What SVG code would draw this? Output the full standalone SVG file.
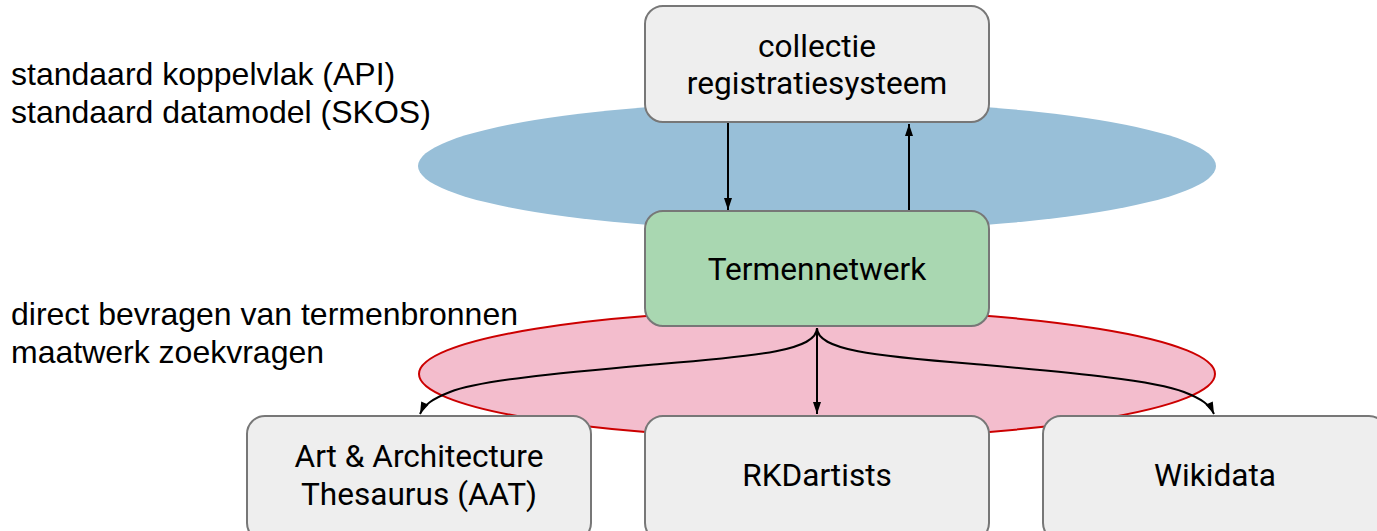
<svg xmlns="http://www.w3.org/2000/svg" width="1377" height="531" viewBox="0 0 1377 531">
<defs>
<style>
.box{fill:#eeeeee;stroke:#777777;stroke-width:2}
.green{fill:#a9d7b1;stroke:#777777;stroke-width:2}
.bt{font-family:Roboto,"Liberation Sans",sans-serif;font-size:31.6px;fill:#000;text-anchor:middle}
.lt{font-family:"Liberation Sans",Arial,sans-serif;font-size:32px;fill:#000}
.edge{fill:none;stroke:#000;stroke-width:2}
</style>
<marker id="ah" viewBox="0 0 12 8" refX="12" refY="4" markerWidth="12" markerHeight="8" markerUnits="userSpaceOnUse" orient="auto" overflow="visible">
<path d="M0,0 L12,4 L0,8 Z" fill="#000"/>
</marker>
</defs>
<rect width="1377" height="531" fill="#fff"/>
<g id="bg-ellipses">
<ellipse cx="817" cy="166" rx="399" ry="65" fill="#98bfd8"/>
<ellipse cx="817" cy="374" rx="398" ry="64" fill="#f3bdcd" stroke="#cc0000" stroke-width="2"/>
</g>
<g id="labels">
<text class="lt" x="11" y="85">standaard koppelvlak (API)</text>
<text class="lt" x="11" y="123">standaard datamodel (SKOS)</text>
<text class="lt" x="11" y="325">direct bevragen van termenbronnen</text>
<text class="lt" x="11" y="363">maatwerk zoekvragen</text>
</g>
<g id="connectors">
<line class="edge" x1="728" y1="123" x2="728" y2="210" marker-end="url(#ah)"/>
<line class="edge" x1="909" y1="211" x2="909" y2="124" marker-end="url(#ah)"/>
<line class="edge" x1="817" y1="328" x2="817" y2="414" marker-end="url(#ah)"/>
<path class="edge" d="M817,328 C817,350 760,356 660,364 C560,373 480,380 450,392 C432,399 424,405 420,414" marker-end="url(#ah)"/>
<path class="edge" d="M817,328 C817,350 874,356 974,364 C1074,373 1154,380 1184,392 C1202,399 1210,405 1214,414" marker-end="url(#ah)"/>
</g>
<g id="node-collectie">
<rect class="box" x="645" y="6" width="344" height="116" rx="18"/>
<text class="bt" x="817" y="57">collectie</text>
<text class="bt" x="817" y="94">registratiesysteem</text>
</g>
<g id="node-termennetwerk">
<rect class="green" x="645" y="211" width="344" height="115" rx="18"/>
<text class="bt" x="817" y="280">Termennetwerk</text>
</g>
<g id="node-aat">
<rect class="box" x="247" y="416" width="344" height="125" rx="18"/>
<text class="bt" x="419" y="467">Art &amp; Architecture</text>
<text class="bt" x="419" y="505">Thesaurus (AAT)</text>
</g>
<g id="node-rkd">
<rect class="box" x="645" y="416" width="344" height="125" rx="18"/>
<text class="bt" x="817" y="486">RKDartists</text>
</g>
<g id="node-wikidata">
<rect class="box" x="1043" y="416" width="344" height="125" rx="18"/>
<text class="bt" x="1215" y="486">Wikidata</text>
</g>
</svg>
